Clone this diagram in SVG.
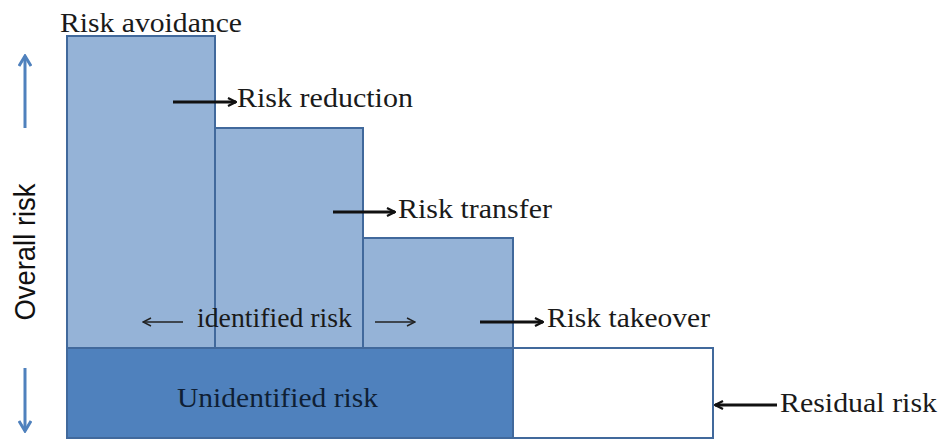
<svg xmlns="http://www.w3.org/2000/svg" width="942" height="441" viewBox="0 0 942 441">
  <defs>
    <marker id="headBold" viewBox="0 0 10 10" refX="9" refY="5" markerWidth="10" markerHeight="10" markerUnits="userSpaceOnUse" orient="auto">
      <path d="M1,1 L9,5 L1,9" fill="none" stroke="#111" stroke-width="2.2"/>
    </marker>
    <marker id="headThin" viewBox="0 0 10 10" refX="9" refY="5" markerWidth="10" markerHeight="10" markerUnits="userSpaceOnUse" orient="auto">
      <path d="M1,1 L9,5 L1,9" fill="none" stroke="#222" stroke-width="1.4"/>
    </marker>
    <marker id="headBlue" viewBox="0 0 14 14" refX="12" refY="7" markerWidth="14" markerHeight="14" markerUnits="userSpaceOnUse" orient="auto">
      <path d="M2,1 L12,7 L2,13" fill="none" stroke="#4F81BD" stroke-width="3"/>
    </marker>
    <style>
      .light { fill: #95B3D7; stroke: #41699C; stroke-width: 2; }
      .dark { fill: #4F81BD; stroke: #41699C; stroke-width: 2; }
      .blank { fill: #FFFFFF; stroke: #41699C; stroke-width: 2; }
      .lbl { font-family: "Liberation Serif", "Times New Roman", serif; font-size: 27px; fill: #1a1a1a; }
      .axis { font-family: "Liberation Sans", Arial, sans-serif; font-size: 29px; fill: #111; }
      .bold { stroke: #111; stroke-width: 3; fill: none; }
      .thin { stroke: #222; stroke-width: 1.6; fill: none; }
      .blue { stroke: #4F81BD; stroke-width: 3; fill: none; }
    </style>
  </defs>

  <!-- vertical axis -->
  <g id="axis">
    <line class="blue" x1="25" y1="128" x2="25" y2="56" marker-end="url(#headBlue)"/>
    <line class="blue" x1="25" y1="368" x2="25" y2="431" marker-end="url(#headBlue)"/>
    <text class="axis" transform="translate(35,252) rotate(-90)" text-anchor="middle" textLength="137" lengthAdjust="spacingAndGlyphs">Overall risk</text>
  </g>

  <!-- stacked risk blocks -->
  <g id="avoidance">
    <rect class="light" x="67" y="36" width="148" height="312"/>
  </g>
  <g id="reduction">
    <rect class="light" x="215" y="128" width="148" height="220"/>
  </g>
  <g id="transfer">
    <rect class="light" x="363" y="238" width="150" height="110"/>
  </g>
  <g id="unidentified">
    <rect class="dark" x="67" y="348" width="446" height="90"/>
    <text class="lbl" x="177" y="407" style="fill:#0f1f35" textLength="201" lengthAdjust="spacingAndGlyphs">Unidentified risk</text>
  </g>
  <g id="residual">
    <rect class="blank" x="513" y="348" width="200" height="90"/>
  </g>

  <!-- labels -->
  <g id="labels">
    <text class="lbl" x="60" y="32" textLength="182" lengthAdjust="spacingAndGlyphs">Risk avoidance</text>
    <text class="lbl" x="237" y="107" textLength="176" lengthAdjust="spacingAndGlyphs">Risk reduction</text>
    <text class="lbl" x="398" y="218" textLength="154" lengthAdjust="spacingAndGlyphs">Risk transfer</text>
    <text class="lbl" x="197" y="327" textLength="155" lengthAdjust="spacingAndGlyphs">identified risk</text>
    <text class="lbl" x="547" y="327" textLength="163" lengthAdjust="spacingAndGlyphs">Risk takeover</text>
    <text class="lbl" x="780" y="412" textLength="157" lengthAdjust="spacingAndGlyphs">Residual risk</text>
  </g>

  <!-- connectors -->
  <g id="connectors">
    <line class="bold" x1="173" y1="102" x2="236" y2="102" marker-end="url(#headBold)"/>
    <line class="bold" x1="333" y1="212" x2="395" y2="212" marker-end="url(#headBold)"/>
    <line class="thin" x1="183" y1="322" x2="143" y2="322" marker-end="url(#headThin)"/>
    <line class="thin" x1="375" y1="322" x2="415" y2="322" marker-end="url(#headThin)"/>
    <line class="bold" x1="480" y1="322" x2="543" y2="322" marker-end="url(#headBold)"/>
    <line class="bold" x1="777" y1="405" x2="715" y2="405" marker-end="url(#headBold)"/>
  </g>
</svg>
